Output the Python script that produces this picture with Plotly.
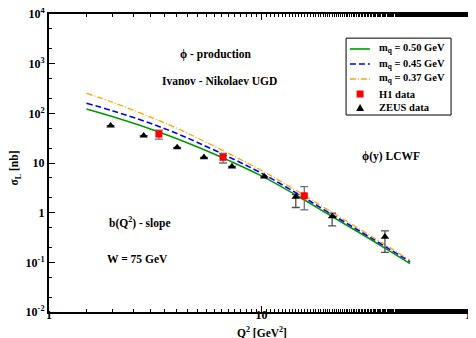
import plotly.graph_objects as go

# --- data ---
q2_curve = [1.5, 2, 3, 4, 5, 7, 10, 15, 20, 30, 40, 50]
sig_050 = [122, 85, 48.4, 30.8, 21.0, 11.3, 5.5, 2.09, 1.0, 0.36, 0.17, 0.094]
sig_045 = [160, 112, 63, 39.2, 25.9, 13.3, 6.24, 2.32, 1.10, 0.39, 0.185, 0.103]
sig_037 = [254, 166, 84, 49.9, 31.8, 15.6, 7.08, 2.6, 1.22, 0.427, 0.20, 0.11]

h1_q2 = [3.29, 6.59, 15.9]
h1_sig = [38.3, 13.0, 2.19]
h1_up = [46, 15.6, 3.33]
h1_lo = [30.3, 10.0, 1.14]

zeus_q2 = [1.95, 2.79, 4.01, 5.36, 7.26, 10.3, 14.5, 21.5, 38.1]
zeus_sig = [56.5, 35.5, 20.6, 13.0, 8.5, 5.3, 2.09, 0.84, 0.327]
zeus_up = [56.5, 35.5, 20.6, 13.0, 8.5, 5.3, 2.3, 0.98, 0.43]
zeus_lo = [56.5, 35.5, 20.6, 13.0, 8.5, 5.3, 1.27, 0.54, 0.158]

y_ticks = [1e-2, 1e-1, 1, 10, 1e2, 1e3, 1e4]
y_ticktext = ["10<sup>-2</sup>", "10<sup>-1</sup>", "1", "10",
              "10<sup>2</sup>", "10<sup>3</sup>", "10<sup>4</sup>"]
x_ticks = [1, 10, 100]
x_ticktext = ["1", "10", "100"]

legend_labels = ["m<sub>q</sub> = 0.50 GeV", "m<sub>q</sub> = 0.45 GeV",
                 "m<sub>q</sub> = 0.37 GeV", "H1 data", "ZEUS data"]

FONT = "Liberation Serif, Times New Roman, serif"
GREEN, BLUE, ORANGE = "#009900", "#0000ff", "#ffa500"
BLUE_DASH, ORANGE_DASH = "6px,3px", "6px,2px,1px,2px"

fig = go.Figure()

fig.add_trace(go.Scatter(x=q2_curve, y=sig_050, mode="lines",
                         line=dict(color=GREEN, width=1.6, shape="spline"),
                         name=legend_labels[0]))
fig.add_trace(go.Scatter(x=q2_curve, y=sig_045, mode="lines",
                         line=dict(color=BLUE, width=1.6, dash=BLUE_DASH, shape="spline"),
                         name=legend_labels[1]))
fig.add_trace(go.Scatter(x=q2_curve, y=sig_037, mode="lines",
                         line=dict(color=ORANGE, width=1.3, dash=ORANGE_DASH, shape="spline"),
                         name=legend_labels[2]))

fig.add_trace(go.Scatter(
    x=h1_q2, y=h1_sig, mode="markers", name=legend_labels[3],
    marker=dict(symbol="square", color="red", size=7),
    error_y=dict(type="data", symmetric=False,
                 array=[u - s for u, s in zip(h1_up, h1_sig)],
                 arrayminus=[s - l for s, l in zip(h1_sig, h1_lo)],
                 color="#707070", thickness=1.3, width=4)))
fig.add_trace(go.Scatter(
    x=zeus_q2, y=zeus_sig, mode="markers", name=legend_labels[4],
    marker=dict(symbol="triangle-up", color="black", size=7.5),
    error_y=dict(type="data", symmetric=False,
                 array=[u - s for u, s in zip(zeus_up, zeus_sig)],
                 arrayminus=[s - l for s, l in zip(zeus_sig, zeus_lo)],
                 color="#505050", thickness=1.3, width=4)))

axis_common = dict(showline=True, linecolor="black", linewidth=2, mirror="allticks",
                   ticks="inside", ticklen=6, tickwidth=1.2, tickcolor="black",
                   showgrid=False, zeroline=False, automargin=False,
                   ticklabeloverflow="allow",
                   minor=dict(ticks="inside", ticklen=3, tickwidth=1, tickcolor="black",
                              showgrid=False),
                   tickfont=dict(family=FONT, size=12, color="black", weight="bold"))

fig.update_xaxes(type="log", range=[0, 2], tickvals=x_ticks, ticktext=x_ticktext,
                 ticklabelstandoff=-9, **axis_common)
fig.update_yaxes(type="log", range=[-2, 4], tickvals=y_ticks, ticktext=y_ticktext,
                 **axis_common)

txt = dict(family=FONT, size=11.5, color="black", weight="bold")
notes = [
    ("ϕ - production", 0.392, 0.863),
    ("Ivanov - Nikolaev UGD", 0.40, 0.775),
    ("ϕ(y) LCWF", 0.804, 0.523),
    ("b(Q<sup>2</sup>) - slope", 0.213, 0.302),
    ("W = 75 GeV", 0.208, 0.178),
]
for t, x, y in notes:
    fig.add_annotation(text=t, x=x, y=y, xref="paper", yref="paper",
                       xanchor="center", yanchor="middle", showarrow=False, font=txt)

# axis titles
fig.add_annotation(text="Q<sup>2</sup> [GeV<sup>2</sup>]", x=0.501, y=-0.098,
                   xref="paper", yref="paper", xanchor="center", yanchor="bottom",
                   showarrow=False, font=txt)
fig.add_annotation(text="σ<sub>L</sub> [nb]", x=-0.079, y=0.483, textangle=-90,
                   xref="paper", yref="paper", xanchor="center", yanchor="middle",
                   showarrow=False, font=txt)

# hand-drawn legend box (plotly's own legend rows are too tall here)
fig.add_shape(type="rect", xref="paper", yref="paper", x0=0.699, x1=0.946,
              y0=0.661, y1=0.919, line=dict(color="black", width=1),
              fillcolor="white", layer="above")
rows = [0.8826, 0.8322, 0.7819, 0.7315, 0.6846]
for yr, (col, dash, w) in zip(rows[:3], [(GREEN, "solid", 1.6), (BLUE, BLUE_DASH, 1.6),
                                         (ORANGE, ORANGE_DASH, 1.3)]):
    fig.add_shape(type="line", xref="paper", yref="paper", x0=0.708, x1=0.755,
                  y0=yr, y1=yr, line=dict(color=col, width=w, dash=dash), layer="above")
fig.add_shape(type="rect", xref="paper", yref="paper", xsizemode="pixel",
              ysizemode="pixel", xanchor=0.732, yanchor=rows[3],
              x0=-3.5, x1=3.5, y0=-3.5, y1=3.5, line=dict(width=0),
              fillcolor="red", layer="above")
fig.add_shape(type="path", xref="paper", yref="paper", xsizemode="pixel",
              ysizemode="pixel", xanchor=0.732, yanchor=rows[4],
              path="M-4,-3L4,-3L0,4Z", line=dict(width=0),
              fillcolor="black", layer="above")
for yr, lab in zip(rows, legend_labels):
    fig.add_annotation(text=lab, x=0.772, y=yr, xref="paper", yref="paper",
                       xanchor="left", yanchor="middle", showarrow=False,
                       font=dict(family=FONT, size=10.5, color="black", weight="bold"))

fig.update_layout(
    width=476, height=338,
    margin=dict(l=41, r=10, t=6, b=34),
    paper_bgcolor="white", plot_bgcolor="white",
    font=dict(family=FONT, color="black"),
    showlegend=False,
)

fig.write_html("out.html")
